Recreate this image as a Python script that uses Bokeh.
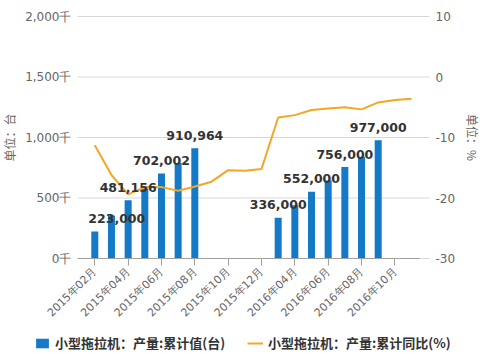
import math
from bokeh.plotting import figure
from bokeh.models import (ColumnDataSource, Range1d, LinearAxis, FixedTicker,
                          Legend, LegendItem, Label)
from bokeh.core.properties import value
from bokeh.embed import file_html
from bokeh.resources import INLINE

# ---------------- data ----------------
months = ["2015年02月", "2015年03月", "2015年04月", "2015年05月", "2015年06月",
          "2015年07月", "2015年08月", "2015年09月", "2015年10月", "2015年11月",
          "2015年12月", "2016年03月", "2016年04月", "2016年05月", "2016年06月",
          "2016年07月", "2016年08月", "2016年09月", "2016年10月", "2016年11月"]
production = [223000, 355000, 481156, 578000, 702002, 790000, 910964,
              None, None, None, None,
              336000, 440000, 552000, 645000, 756000, 840000, 977000,
              None, None]
growth = [-11.3, -16.2, -19.4, -18.2, -18.2, -18.8, -18.1, -17.3, -15.4, -15.5,
          -15.2, -6.7, -6.3, -5.45, -5.2, -5.0, -5.35, -4.2, -3.8, -3.6]
labeled_months = ["2015年02月", "2015年04月", "2015年06月", "2015年08月",
                  "2016年03月", "2016年05月", "2016年07月", "2016年09月"]
x_tick_labels = ["2015年02月", "2015年04月", "2015年06月", "2015年08月", "2015年10月",
                 "2015年12月", "2016年04月", "2016年06月", "2016年08月", "2016年10月"]
left_ticks = [0, 500000, 1000000, 1500000, 2000000]
left_tick_labels = ["0千", "500千", "1,000千", "1,500千", "2,000千"]
right_ticks = [-30, -20, -10, 0, 10]
right_tick_labels = ["-30", "-20", "-10", "0", "10"]
bar_name = "小型拖拉机：产量:累计值(台)"
line_name = "小型拖拉机：产量:累计同比(%)"
left_title = "单位：台"
right_title = "单位：%"

# ---------------- styles / geometry (pixels) ----------------
BLUE = "#1479c6"
ORANGE = "#f5a623"
GRID = "#d8d8d8"
TXT = "#666666"
NUM_FONT = "DejaVu Sans"
CJK_FONT = "Noto Sans CJK SC"

W, H = 482, 356          # whole canvas is the plotting frame
PLOT_L, PLOT_R = 77, 429  # plotting band
AXIS_END = 419            # end of the x axis line
PLOT_T, PLOT_B = 16, 258
CAT0, STEP = 94.3, 16.67  # first category centre, category spacing

def px_to_x(px):
    return (px - CAT0) / STEP

lmin, lmax = left_ticks[0], left_ticks[-1]
rmin, rmax = right_ticks[0], right_ticks[-1]
l_per_px = (lmax - lmin) / (PLOT_B - PLOT_T)
r_per_px = (rmax - rmin) / (PLOT_B - PLOT_T)

x_idx = list(range(len(months)))
bar_src = ColumnDataSource(dict(
    x=[i for i, v in enumerate(production) if v is not None],
    top=[v for v in production if v is not None],
))
line_src = ColumnDataSource(dict(x=x_idx, y=growth))

lab_x, lab_y, lab_t = [], [], []
for m in labeled_months:
    i = months.index(m)
    lab_x.append(i)
    lab_y.append(production[i])
    lab_t.append(f"{production[i]:,}")
lab_dx = [22 if k == 0 else 0 for k in range(len(lab_x))]
lab_src = ColumnDataSource(dict(x=lab_x, y=lab_y, text=lab_t, dx=lab_dx))

p = figure(frame_width=W, frame_height=H, output_backend="svg",
           toolbar_location=None,
           x_range=Range1d(px_to_x(0), px_to_x(W)),
           y_range=Range1d(lmin - (H - PLOT_B) * l_per_px, lmax + PLOT_T * l_per_px),
           min_border=0)
p.extra_y_ranges = {"pct": Range1d(rmin - (H - PLOT_B) * r_per_px,
                                   rmax + PLOT_T * r_per_px)}
p.outline_line_color = None
p.background_fill_color = "white"
p.border_fill_color = "white"
p.xgrid.visible = False
p.ygrid.visible = False

# horizontal gridlines over the plotting band
p.segment(x0=[px_to_x(PLOT_L)] * len(left_ticks), x1=[px_to_x(PLOT_R)] * len(left_ticks),
          y0=left_ticks, y1=left_ticks, line_color=GRID, line_width=1)

# bars
r_bar = p.vbar(x="x", top="top", width=0.42, source=bar_src,
               fill_color=BLUE, line_color=None)
# line
r_line = p.line(x="x", y="y", source=line_src, y_range_name="pct",
                line_color=ORANGE, line_width=2)
# value labels
p.text(x="x", y="y", text="text", source=lab_src, x_offset="dx", y_offset=-13,
       text_align="center", text_baseline="middle",
       text_font=value(NUM_FONT), text_font_style="bold",
       text_font_size="12.5px", text_color="#333333")

# x axis pinned at value 0
xax = p.xaxis[0]
xax.fixed_location = lmin
xax.bounds = (px_to_x(PLOT_L), px_to_x(AXIS_END))
tick_pos = [months.index(m) for m in x_tick_labels]
xax.ticker = FixedTicker(ticks=tick_pos)
xax.major_label_overrides = {months.index(m): m for m in x_tick_labels}
xax.major_label_orientation = math.pi / 4
xax.major_label_text_font = NUM_FONT
xax.major_label_text_font_size = "11px"
xax.major_label_text_color = TXT
xax.axis_line_color = "#a0a0a0"
xax.major_tick_line_color = "#a0a0a0"
xax.major_tick_out = 7
xax.major_tick_in = 0
xax.minor_tick_line_color = None
xax.major_label_standoff = 4

# left axis pinned at the band's left edge
yax = p.yaxis[0]
yax.fixed_location = px_to_x(PLOT_L)
yax.ticker = FixedTicker(ticks=left_ticks)
yax.major_label_overrides = dict(zip(left_ticks, left_tick_labels))
yax.axis_line_color = None
yax.major_tick_line_color = None
yax.major_tick_out = 0
yax.major_tick_in = 0
yax.minor_tick_line_color = None
yax.major_label_text_font = NUM_FONT
yax.major_label_text_font_size = "12px"
yax.major_label_text_color = TXT
yax.major_label_standoff = 6

# right axis pinned at the band's right edge
rax = LinearAxis(y_range_name="pct", ticker=FixedTicker(ticks=right_ticks),
                 fixed_location=px_to_x(PLOT_R))
rax.major_label_overrides = dict(zip(right_ticks, right_tick_labels))
rax.axis_line_color = None
rax.major_tick_line_color = None
rax.major_tick_out = 0
rax.major_tick_in = 0
rax.minor_tick_line_color = None
rax.major_label_text_font = NUM_FONT
rax.major_label_text_font_size = "12px"
rax.major_label_text_color = TXT
rax.major_label_standoff = 6
p.add_layout(rax, "right")

# axis titles
mid_y = H - (PLOT_T + PLOT_B) / 2
p.add_layout(Label(x=9, y=mid_y, x_units="screen", y_units="screen",
                   text=left_title, angle=math.pi / 2, text_align="center",
                   text_baseline="middle", text_font=CJK_FONT,
                   text_font_size="12px", text_color=TXT))
p.add_layout(Label(x=472, y=mid_y, x_units="screen", y_units="screen",
                   text=right_title, angle=-math.pi / 2, text_align="center",
                   text_baseline="middle", text_font=CJK_FONT,
                   text_font_size="12px", text_color=TXT))

# legend
legend = Legend(items=[LegendItem(label=bar_name, renderers=[r_bar]),
                       LegendItem(label=line_name, renderers=[r_line])],
                orientation="horizontal", location=(34, 4),
                glyph_width=16, glyph_height=12, label_height=12,
                label_standoff=5, spacing=22, padding=0, margin=0,
                border_line_color=None, background_fill_alpha=0,
                label_text_font=CJK_FONT, label_text_font_size="13px",
                label_text_font_style="bold", label_text_color="#333333",
                label_text_baseline="middle")
p.add_layout(legend, "center")

open("out.html", "w").write(file_html(p, INLINE))
